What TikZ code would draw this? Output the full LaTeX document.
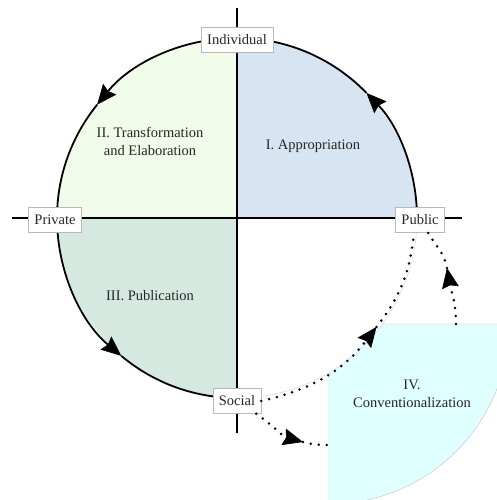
\documentclass[tikz,border=0pt]{standalone}
\usepackage{fontspec}
\setmainfont{Liberation Serif}
\usepackage{xcolor}
\usetikzlibrary{arrows.meta}

\definecolor{appr}{HTML}{D7E4F1}
\definecolor{trans}{HTML}{F1FBE9}
\definecolor{publ}{HTML}{D5E9E1}
\definecolor{conv}{HTML}{E0FFFF}

\begin{document}
\begin{tikzpicture}[
    x=1pt, y=1pt,
    >={Stealth[length=20pt,width=17pt,inset=2.5pt,line width=0.6pt]},
    pole/.style={draw=gray!55,fill=white,minimum height=25pt,inner xsep=6pt,
                 font=\fontsize{14.5}{17}\selectfont,text=black!85},
    phase/.style={align=center,font=\fontsize{14.5}{18}\selectfont,text=black!85},
    loopline/.style={line width=1.8pt},
    dotline/.style={line width=2.8pt,line cap=round,dash pattern=on 0pt off 8pt},
  ]
  \clip (-237,-282) rectangle (260,218);

  % --- quadrant IV region, behind the circle ---
  \filldraw[fill=conv,draw=gray!50,thin]
    (92,-106) -- (272,-106) arc[start angle=0,end angle=-90,radius=180] -- cycle;

  % --- the four quarters of the circle ---
  \filldraw[fill=white,draw=gray!35,thin]
    (0,0) -- (0,-180) arc[start angle=270,end angle=360,radius=180] -- cycle;
  \fill[appr]  (0,0) -- (180,0) arc[start angle=0,end angle=90,radius=180] -- cycle;
  \fill[trans] (0,0) -- (0,180) arc[start angle=90,end angle=180,radius=180] -- cycle;
  \fill[publ]  (0,0) -- (-180,0) arc[start angle=180,end angle=270,radius=180] -- cycle;

  % --- axes ---
  \draw[loopline] (0,210) -- (0,-215);
  \draw[loopline] (-225,0) -- (225,0);

  % --- the cycle I -> II -> III (tip, then the rest of the quarter) ---
  \node[circle,minimum size=360pt,inner sep=0pt,outer sep=0pt] (wheel) at (0,0) {};
  \draw[loopline,->] (wheel.east) arc[start angle=0,end angle=44,radius=180];
  \draw[loopline] (44:180) arc[start angle=44,end angle=90,radius=180];
  \draw[loopline,->] (wheel.north) arc[start angle=90,end angle=141,radius=180];
  \draw[loopline] (141:180) arc[start angle=141,end angle=180,radius=180];
  \draw[loopline,->] (wheel.west) arc[start angle=180,end angle=230,radius=180];
  \draw[loopline] (230:180) arc[start angle=230,end angle=270,radius=180];

  % --- phase names ---
  \node[phase] (trans) at (-87,77)  {II. Transformation\\and Elaboration};
  \node[phase] (appr)  at (76,72)   {I. Appropriation};
  \node[phase] (publ)  at (-87,-78) {III. Publication};
  \node[phase] (conv)  at (175,-176) {IV.\\Conventionalization};

  % --- poles ---
  \node[pole] (ind)  at (0,178)    {Individual};
  \node[pole] (priv) at (-182,-2)  {Private};
  \node[pole] (pub)  at (183,-2)   {Public};
  \node[pole] (soc)  at (0,-183)   {Social};

  % --- dotted return to the public pole ---
  \coordinate (tip0) at (-38:177);
  \coordinate (tip1) at (66,-224);
  \coordinate (in4)  at (92,-227);
  \coordinate (out4) at (219,-106);
  \coordinate (tip2) at (210,-50);
  \draw[dotline,->] (soc.east) to[bend right=20] (tip0);
  \draw[dotline] (tip0) to[bend right=16] ([xshift=-6pt]pub.south);
  \draw[dotline,->] ([xshift=-5pt]soc.south east) to[out=-35,in=165] (tip1);
  \draw[dotline] (tip1) to[out=-15,in=180] (in4);
  \draw[dotline,->] (out4) to[out=90,in=-80] (tip2);
  \draw[dotline] (tip2) to[out=100,in=-60] ([xshift=8pt]pub.south);

\end{tikzpicture}
\end{document}
